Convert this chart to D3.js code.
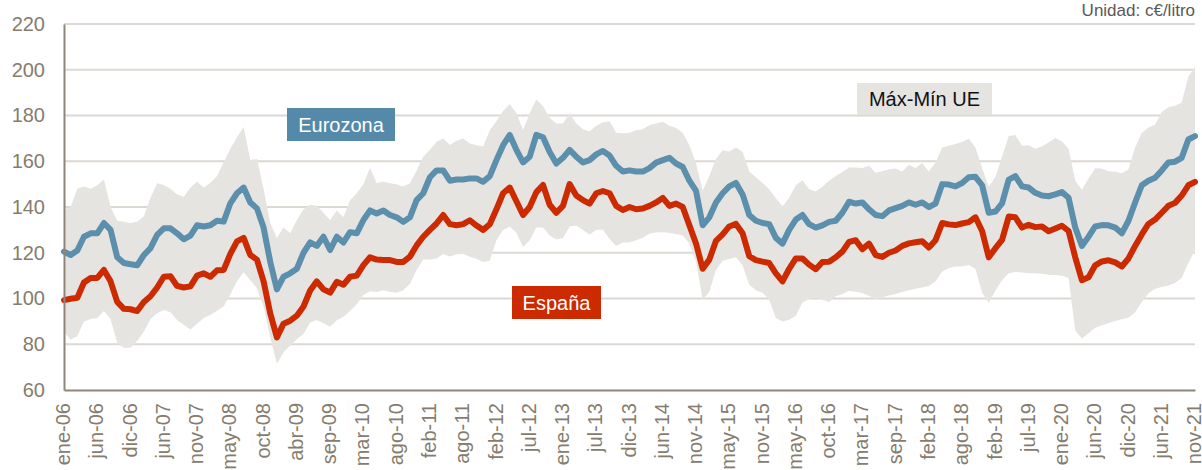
<!DOCTYPE html>
<html lang="es">
<head>
<meta charset="utf-8">
<title>Precio gasolina: España, Eurozona y rango UE</title>
<script src="https://cdn.jsdelivr.net/npm/d3@7/dist/d3.min.js"></script>
<style>
  html, body { margin: 0; padding: 0; background: #ffffff; }
  svg { display: block; font-family: "Liberation Sans", Arial, sans-serif; }
</style>
</head>
<body>
<svg id="chart" width="1202" height="470"></svg>
<script>
// Weekly price series, sampled five times between consecutive axis labels (c€/litro)
const eurozona = [
  120.5, 119, 121, 127, 128.5, 128.5, 133, 130, 118, 115.5,
  115, 114.5, 119, 122, 127.8, 130.7, 130.7, 128.5, 125.9, 127.5,
  132, 131.5, 132, 134, 133.6, 141.6, 146, 148.5, 142, 139.4,
  131, 116, 104, 109.5, 111, 113, 120, 124.5, 123, 127,
  121.2, 127, 124.5, 129, 128.5, 134.3, 138.5, 137.2, 138.5, 136.5,
  135.5, 133.5, 135.5, 143, 146, 153, 156, 156, 151.5, 152,
  152, 152.5, 152.5, 151, 153.5, 160.5, 167, 171.5, 165, 159.5,
  162, 171.5, 170.5, 164, 159, 161.5, 165, 162, 159.5, 160.5,
  163, 164.5, 162.5, 158, 155.5, 156, 155.5, 155.5, 157, 159.4,
  160.5, 161.5, 159, 157.5, 151.5, 147, 132, 135.5, 142, 146,
  149, 150.5, 145.5, 136.5, 134, 133, 132.5, 126.5, 124, 130,
  134.5, 136.5, 132.5, 131, 132, 133.5, 134, 137.5, 142.3, 141.5,
  142, 139, 136.5, 136, 138.5, 139.5, 140.5, 142, 141, 142,
  140, 141.5, 150, 149.8, 149, 150.5, 153, 153.2, 149.5, 137.5,
  138, 141.6, 152, 153.5, 149, 148.5, 146.2, 145, 144.7, 145.5,
  146.5, 144, 131, 123, 127, 131.5, 132.1, 132, 131, 128.5,
  134, 142, 149.5, 151.5, 152.8, 156, 159.5, 159.8, 161.5, 169.5, 171
];

const espana = [
  99.3, 99.9, 100.3, 107, 109, 109, 112.5, 107.5, 98.5, 95.5,
  95.3, 94.5, 98.5, 101, 104.8, 109.5, 109.7, 105.5, 104.8, 105.3,
  110, 111, 109.5, 112.3, 112.5, 119.5, 125, 126.5, 119, 117,
  107.5, 93.5, 83, 89, 90.3, 92.5, 96.5, 103.5, 107.5, 104,
  102.6, 107.3, 106, 109.5, 110, 114.6, 118, 117, 116.8, 116.8,
  116, 116, 118.3, 123.2, 127, 130, 132.8, 136.5, 132.5, 132,
  132.5, 134.2, 131.9, 130, 132.5, 139, 146, 148.5, 142.5, 136.5,
  140, 146.5, 149.6, 141, 137.5, 140.5, 150, 145, 143, 141.5,
  146, 147, 146, 140.5, 138.7, 140, 139, 139.3, 140.5, 142,
  144, 140.5, 141.5, 140, 132, 124, 113, 117, 125.2, 128,
  131.5, 132.6, 128.5, 118.5, 116.8, 116.1, 115.5, 111, 107.5, 113,
  117.5, 117.5, 114.8, 112.8, 116, 116.1, 118, 120.5, 124.7, 125.5,
  121.5, 124, 119, 118.2, 120, 121, 123, 124.1, 124.6, 125,
  122.3, 125.5, 133, 132.4, 132.1, 132.8, 133.4, 135.5, 129.5, 118,
  122, 125.6, 135.8, 135.5, 131, 132.2, 131.2, 131.5, 129.4, 130.6,
  131.8, 129.5, 118, 108, 109.3, 114.5, 116.2, 116.7, 115.8, 114,
  117.5, 123, 128, 132.6, 134.5, 137.5, 140.5, 141.8, 145, 149.5, 151
];

// Highest and lowest national price in the EU for each sample
const maxUE = [
  139, 140, 148, 149, 148, 149.5, 152, 140, 134, 133.5,
  133, 133.5, 136, 144, 150.4, 149.6, 148, 145.5, 144.5, 148.5,
  151, 148.5, 150.5, 153.5, 159.5, 165.5, 170.5, 175, 160.5, 161,
  148, 133, 126.5, 131, 128.5, 134.3, 139, 141, 140.5, 137.5,
  134.3, 138.5, 135.5, 143, 146, 150, 157, 150.5, 151, 150.4,
  150, 149, 150.4, 156, 162, 165, 168.5, 170, 167.1, 169,
  170, 167.8, 167, 166.5, 173.5, 177.5, 182, 185, 181, 173.7,
  181, 187, 184, 179, 176.5, 176.5, 181, 176.5, 174, 173,
  175.5, 177, 177.5, 172.5, 172.2, 172.5, 173.5, 174, 175.9, 176.5,
  177.3, 175.5, 174.5, 172.5, 167, 159, 147.2, 153.5, 161, 164.8,
  164.3, 166, 164, 155.5, 153, 150.6, 147.8, 143.8, 140.3, 144,
  149.5, 151.7, 147.8, 146.8, 148.8, 151.5, 153.5, 155.3, 157.3, 157.3,
  157, 158, 155, 155.6, 156.5, 156.8, 155.5, 158.5, 157, 159.2,
  155.5, 159.5, 166, 166.8, 167.5, 168.4, 169.8, 166, 157, 148.8,
  153.2, 162, 171, 171.5, 166.8, 167, 165.5, 166.6, 168.2, 170.2,
  168.6, 165.5, 151.5, 147.5, 152.5, 156.9, 156.8, 155.6, 155.4, 154.8,
  156.5, 166, 172.3, 174.8, 176, 181.5, 183.6, 184.3, 185.7, 197, 201.3
];

const minUE = [
  85.5, 82, 83.5, 90, 91, 91.5, 94.5, 91, 80.5, 78.5,
  78.5, 81.5, 85.5, 91, 93.5, 95, 94, 90.6, 88.5, 86.5,
  89, 91.5, 92.8, 94.5, 96.6, 101.8, 107.5, 111.5, 108, 104.5,
  96.5, 83, 71.5, 76.5, 79.5, 82.2, 84.5, 89.5, 90.6, 89.2,
  87.7, 90.5, 92, 94.5, 97.5, 101.5, 103.2, 102.8, 103.6, 102.8,
  102.5, 103.6, 106.5, 112.5, 117, 117, 117.5, 119.5, 118.4, 119.3,
  119.5, 118.3, 117.4, 116, 116.5, 125.5, 130, 131.4, 128.7, 122.5,
  125.5, 131, 131, 127.5, 125.8, 126.5, 131.5, 131.8, 130, 128,
  130, 130.2, 126, 123, 124.5, 124.5, 125.5, 126.6, 128.4, 128.9,
  129, 128.6, 128.2, 127.5, 124, 116, 99.5, 103, 112.5, 116.5,
  117.3, 118, 114.5, 106, 103.6, 102.5, 99.5, 91.5, 90, 90.7,
  92.5, 98.2, 99.8, 100.6, 99.5, 98.5, 101, 102, 103.3, 103,
  102.4, 101.2, 99.7, 100.6, 101.3, 102, 102.8, 103.6, 104.3, 104.8,
  105.5, 107.5, 111.8, 113.3, 114, 114, 114.6, 113, 102.5, 98,
  103.5, 108, 111, 111.6, 111.4, 111, 111, 110.8, 110.4, 110.3,
  110, 109, 86, 82.5, 84.8, 87.2, 88.3, 89.3, 90.2, 90.9,
  91.6, 94, 98.5, 102.3, 104.3, 105, 105.7, 106.8, 109, 115.5, 121.2
];

const tickLabels = [
  "ene-06", "jun-06", "dic-06", "jun-07", "nov-07", "may-08", "oct-08", "abr-09",
  "sep-09", "mar-10", "ago-10", "feb-11", "ago-11", "feb-12", "jul-12", "ene-13",
  "jul-13", "dic-13", "jun-14", "nov-14", "may-15", "nov-15", "may-16", "oct-16",
  "mar-17", "sep-17", "feb-18", "ago-18", "feb-19", "jul-19", "ene-20", "jun-20",
  "dic-20", "jun-21", "nov-21"
];
const samplesPerLabel = 5;
const yTicks = [60, 80, 100, 120, 140, 160, 180, 200, 220];

const svg = d3.select("#chart");
const plot = { left: 64, right: 1195, top: 24, bottom: 390 };

const x = d3.scaleLinear()
  .domain([0, eurozona.length - 1])
  .range([plot.left, plot.right]);
const y = d3.scaleLinear()
  .domain([60, 220])
  .range([plot.bottom, plot.top]);

const axisColor = "#8f867b";
const labelColor = "#857c6e";

// Horizontal gridlines
svg.append("g")
  .selectAll("line")
  .data(yTicks.slice(1))
  .join("line")
  .attr("x1", plot.left)
  .attr("x2", plot.right)
  .attr("y1", d => y(d))
  .attr("y2", d => y(d))
  .attr("stroke", "#dcd8d3")
  .attr("stroke-width", 2);

// EU max–min band
const bandData = maxUE.map((v, i) => ({ i, hi: v, lo: minUE[i] }));
svg.append("path")
  .datum(bandData)
  .attr("fill", "#e6e4e1")
  .attr("d", d3.area()
    .x(d => x(d.i))
    .y0(d => y(d.lo))
    .y1(d => y(d.hi)));

// Price lines
const line = d3.line().x((d, i) => x(i)).y(d => y(d));
const series = [
  { values: eurozona, color: "#5b8fac" },
  { values: espana, color: "#cc2a00" }
];
svg.append("g")
  .selectAll("path")
  .data(series)
  .join("path")
  .attr("fill", "none")
  .attr("stroke", d => d.color)
  .attr("stroke-width", 6)
  .attr("stroke-linejoin", "round")
  .attr("stroke-linecap", "round")
  .attr("d", d => line(d.values));

// Y axis
const yAxis = svg.append("g")
  .attr("transform", `translate(${plot.left},0)`)
  .call(d3.axisLeft(y).tickValues(yTicks).tickSize(0).tickPadding(19));
yAxis.select(".domain").attr("stroke", axisColor).attr("stroke-width", 2);
yAxis.selectAll("text")
  .attr("fill", labelColor)
  .attr("font-size", 20)
  .attr("font-family", "Liberation Sans, Arial, sans-serif");

// X axis with rotated month labels
const xAxis = svg.append("g")
  .attr("transform", `translate(0,${plot.bottom})`)
  .call(d3.axisBottom(x)
    .tickValues(tickLabels.map((_, i) => i * samplesPerLabel))
    .tickFormat((d, i) => tickLabels[i])
    .tickSize(0));
xAxis.select(".domain").attr("stroke", axisColor).attr("stroke-width", 2);
xAxis.selectAll("text")
  .attr("fill", labelColor)
  .attr("font-size", 20)
  .attr("font-family", "Liberation Sans, Arial, sans-serif")
  .attr("text-anchor", "end")
  .attr("transform", "rotate(-90)")
  .attr("x", -13)
  .attr("y", 0)
  .attr("dy", "0.28em");

// Unit note
svg.append("text")
  .attr("x", 1195)
  .attr("y", 16)
  .attr("text-anchor", "end")
  .attr("font-size", 17)
  .attr("fill", "#595959")
  .text("Unidad: c€/litro");

// Series labels
const tags = [
  { text: "Eurozona", x: 287, y: 108, w: 108, h: 33, fill: "#5589a9", color: "#ffffff" },
  { text: "España", x: 512, y: 286, w: 89, h: 33, fill: "#cc2a00", color: "#ffffff" },
  { text: "Máx-Mín UE", x: 857, y: 83, w: 135, h: 32, fill: "#e6e4e1", color: "#111111" }
];
const tag = svg.append("g").selectAll("g").data(tags).join("g");
tag.append("rect")
  .attr("x", d => d.x)
  .attr("y", d => d.y)
  .attr("width", d => d.w)
  .attr("height", d => d.h)
  .attr("fill", d => d.fill);
tag.append("text")
  .attr("x", d => d.x + d.w / 2)
  .attr("y", d => d.y + d.h / 2)
  .attr("dy", "0.36em")
  .attr("text-anchor", "middle")
  .attr("font-size", 20)
  .attr("fill", d => d.color)
  .text(d => d.text);
</script>
</body>
</html>
